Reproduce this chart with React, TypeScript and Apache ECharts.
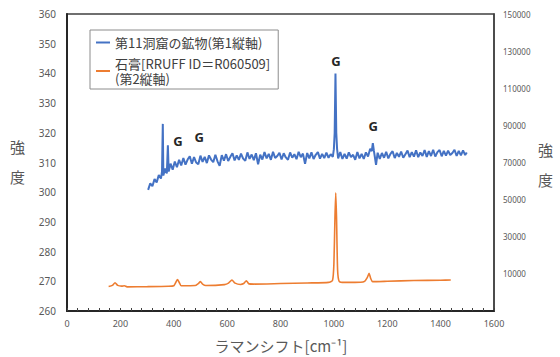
import React, { useEffect, useRef } from "react";
import * as echarts from "echarts";

const seriesNames = ["第11洞窟の鉱物(第1縦軸)", "石膏[RRUFF ID＝R060509]\n(第2縦軸)"];
const xTicks = { min: 0, max: 1600, interval: 200 };
const leftTicks = { min: 260, max: 360, interval: 10 };
const rightTicks = { min: -10000, max: 150000, interval: 10000 };

// 第11洞窟の鉱物 (Raman shift, intensity on 1st axis)
const caveShift = [
  304, 312, 320, 328, 336, 344, 352, 356, 359, 361, 368, 374, 378, 381, 388, 396, 404, 412, 420, 428,
  436, 444, 452, 460, 468, 476, 484, 492, 500, 508, 516, 524, 532, 540, 548, 556, 564, 572, 580, 588,
  596, 604, 612, 620, 628, 636, 644, 652, 660, 668, 676, 684, 692, 700, 708, 716, 724, 732, 740, 748,
  756, 764, 772, 780, 788, 796, 804, 812, 820, 828, 836, 844, 852, 860, 868, 876, 884, 892, 900, 908,
  916, 924, 932, 940, 948, 956, 964, 972, 980, 988, 996, 1000, 1003, 1006, 1009, 1012, 1016, 1024, 1032, 1040,
  1048, 1056, 1064, 1072, 1080, 1088, 1096, 1104, 1112, 1120, 1128, 1136, 1142, 1146, 1150, 1154, 1158, 1164, 1172, 1180,
  1188, 1196, 1204, 1212, 1220, 1228, 1236, 1244, 1252, 1260, 1268, 1276, 1284, 1292, 1300, 1308, 1316, 1324, 1332, 1340,
  1348, 1356, 1364, 1372, 1380, 1388, 1396, 1404, 1412, 1420, 1428, 1436, 1444, 1452, 1460, 1468, 1476, 1484, 1492, 1498,
];
const caveIntensity = [
  300.8, 303.0, 302.0, 304.4, 303.3, 305.8, 304.6, 306.9, 323.0, 305.6, 308.0, 306.3, 315.8, 307.0, 309.6, 307.6, 310.3, 308.4, 310.9, 309.0,
  311.5, 309.3, 311.0, 312.1, 309.6, 311.8, 310.0, 309.4, 312.3, 310.2, 311.9, 309.8, 312.4, 311.0, 310.1, 312.6, 310.4, 308.9, 312.5, 310.6,
  312.8, 310.5, 311.9, 313.1, 310.7, 312.4, 310.9, 313.0, 311.3, 310.6, 313.4, 311.2, 312.7, 310.8, 313.1, 309.4, 312.6, 311.0, 313.5, 311.4,
  312.9, 310.9, 313.6, 311.5, 312.2, 313.3, 311.0, 313.1, 311.7, 310.9, 313.4, 311.6, 312.8, 311.1, 313.6, 311.8, 313.0, 309.6, 313.2, 311.4,
  313.4, 311.2, 312.6, 313.5, 311.3, 312.9, 311.5, 313.3, 311.6, 312.8, 311.9, 314.5, 320.0, 340.0, 320.0, 314.6, 311.4, 313.5, 311.2, 312.9,
  311.3, 313.4, 311.8, 312.6, 310.9, 313.5, 311.4, 312.9, 311.2, 313.4, 312.0, 314.6, 313.8, 316.5, 313.9, 311.6, 309.2, 313.3, 311.2, 313.2,
  311.6, 313.6, 311.4, 312.9, 313.8, 311.5, 313.2, 311.9, 313.7, 311.6, 312.8, 314.0, 311.8, 313.5, 312.0, 314.1, 311.8, 313.4, 312.2, 314.2,
  311.9, 313.8, 312.2, 314.3, 312.0, 313.5, 314.2, 312.1, 313.9, 312.3, 314.0, 312.5, 313.2, 314.3, 312.2, 313.9, 312.4, 314.1, 312.5, 313.4,
];

// 石膏 RRUFF R060509 (intensity on 2nd axis)
const gypsumShift = [
  156, 170, 180, 190, 205, 215, 225, 300, 380, 400, 408, 414, 420, 428, 480, 492, 500, 508, 520, 590,
  605, 618, 630, 650, 662, 672, 682, 700, 800, 900, 980, 995, 1000, 1004, 1007, 1010, 1014, 1020, 1040, 1100,
  1115, 1125, 1132, 1138, 1145, 1200, 1300, 1400, 1438,
];
const gypsumIntensity = [
  3200, 3800, 5200, 3800, 3400, 3600, 3000, 3100, 3300, 3600, 5500, 7000, 5500, 3600, 3700, 4800, 5800, 4500, 3700, 4200,
  5000, 6700, 5000, 4300, 4800, 6300, 4600, 4500, 4800, 5100, 5400, 6500, 15000, 40000, 53700, 40000, 12000, 6000, 5400, 5500,
  6000, 8000, 10300, 7500, 5800, 6000, 6400, 6600, 6700,
];

// "G" annotations (shift, 1st-axis intensity)
const gLabelShift = [416, 495, 1008, 1147];
const gLabelIntensity = [317.2, 318.5, 344.2, 322.3];

const tickColor = "#595959";

export default function App() {
  const ref = useRef<HTMLDivElement>(null);
  useEffect(() => {
    document.body.style.margin = "0";
    if (!ref.current) return;
    const chart = echarts.init(ref.current, undefined, { renderer: "svg" });
    const caveData = caveShift.map((x, i) => [x, caveIntensity[i]]);
    const gypsumData = gypsumShift.map((x, i) => [x, gypsumIntensity[i]]);
    const gData = gLabelShift.map((x, i) => ({ coord: [x, gLabelIntensity[i]], value: "G" }));
    chart.setOption({
      animation: false,
      textStyle: { fontFamily: "'Noto Sans', 'Noto Sans CJK JP', sans-serif" },
      grid: {
        left: 67,
        right: 66,
        top: 14,
        bottom: 46,
        show: true,
        borderColor: "#404040",
        borderWidth: 1.5,
        outerBoundsMode: "none",
      },
      legend: {
        orient: "vertical",
        left: 90,
        top: 30,
        padding: [5, 8, 3, 6],
        itemGap: 6,
        itemWidth: 14,
        itemHeight: 2,
        borderColor: "#8c8c8c",
        borderWidth: 1,
        backgroundColor: "#fff",
        textStyle: {
          fontSize: 13,
          lineHeight: 15,
          color: "#404040",
          fontFamily: "'Noto Sans CJK JP', sans-serif",
        },
        data: [
          { name: seriesNames[0], icon: "rect" },
          { name: seriesNames[1], icon: "rect" },
        ],
      },
      xAxis: {
        type: "value",
        min: xTicks.min,
        max: xTicks.max,
        interval: xTicks.interval,
        axisLine: { show: true, onZero: false, lineStyle: { color: "#262626", width: 2 } },
        axisTick: { show: true, inside: true, length: 3, lineStyle: { color: "#404040" } },
        minorTick: { show: true, splitNumber: 5, length: 3, lineStyle: { color: "#404040" } },
        splitLine: { show: false },
        axisLabel: { color: tickColor, fontSize: 9, margin: 8, formatter: (v: number) => String(v) },
      },
      yAxis: [
        {
          type: "value",
          min: leftTicks.min,
          max: leftTicks.max,
          interval: leftTicks.interval,
          axisLine: { show: true, onZero: false, lineStyle: { color: "#262626", width: 2 } },
          axisTick: { show: false },
          splitLine: { show: false },
          axisLabel: { color: tickColor, fontSize: 10, margin: 11 },
        },
        {
          type: "value",
          position: "right",
          min: rightTicks.min,
          max: rightTicks.max,
          interval: rightTicks.interval,
          axisLine: { show: true, onZero: false, lineStyle: { color: "#404040", width: 1.5 } },
          axisTick: { show: false },
          splitLine: { show: false },
          axisLabel: {
            color: tickColor,
            fontSize: 8,
            margin: 9,
            formatter: (v: number) => (v >= 10000 && (v - 10000) % 20000 === 0 ? String(v) : ""),
          },
        },
      ],
      series: [
        {
          name: seriesNames[1],
          type: "line",
          yAxisIndex: 1,
          data: gypsumData,
          showSymbol: false,
          smooth: 0.2,
          color: "#ED7D31",
          lineStyle: { color: "#ED7D31", width: 1.6 },
          z: 2,
        },
        {
          name: seriesNames[0],
          type: "line",
          yAxisIndex: 0,
          data: caveData,
          showSymbol: false,
          color: "#4472C4",
          lineStyle: { color: "#4472C4", width: 2 },
          z: 3,
          markPoint: {
            symbol: "rect",
            symbolSize: 1,
            itemStyle: { color: "rgba(0,0,0,0)" },
            label: {
              show: true,
              position: "inside",
              formatter: "G",
              color: "#262626",
              fontSize: 13,
              fontWeight: "bold",
              fontFamily: "'Open Sans', sans-serif",
            },
            data: gData,
          },
        },
      ],
      graphic: [
        { type: "text", left: 10, top: 139, style: { text: "強", fill: tickColor, font: "15px 'Noto Sans CJK JP'" } },
        { type: "text", left: 10, top: 169, style: { text: "度", fill: tickColor, font: "15px 'Noto Sans CJK JP'" } },
        { type: "text", left: 538, top: 142, style: { text: "強", fill: tickColor, font: "15px 'Noto Sans CJK JP'" } },
        { type: "text", left: 538, top: 172, style: { text: "度", fill: tickColor, font: "15px 'Noto Sans CJK JP'" } },
        {
          type: "text",
          x: 281,
          y: 345,
          style: {
            text: "ラマンシフト[cm⁻¹]",
            font: "15px 'Noto Sans CJK JP'",
            fill: tickColor,
            align: "center",
            verticalAlign: "middle",
          },
        },
      ],
    });
    return () => chart.dispose();
  }, []);
  return <div ref={ref} style={{ width: 560, height: 357 }} />;
}
